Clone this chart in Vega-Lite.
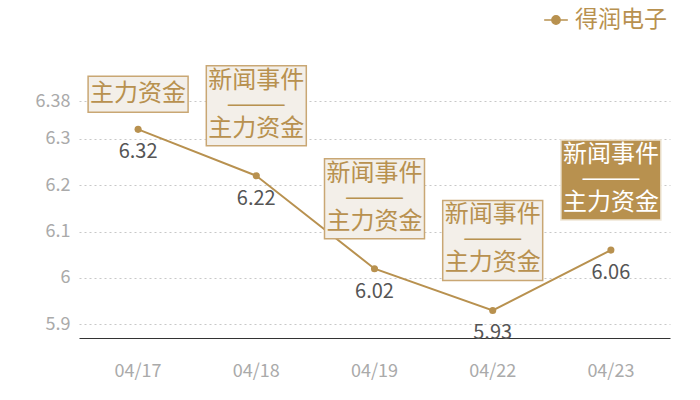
{
  "$schema": "https://vega.github.io/schema/vega-lite/v6.json",
  "width": 591,
  "height": 238,
  "autosize": "none",
  "padding": {"left": 79, "top": 100, "right": 30, "bottom": 62},
  "background": "white",
  "data": {
    "values": [
      {"date": "04/17", "value": 6.32, "stock": "得润电子", "note": "主力资金", "kind": "single"},
      {"date": "04/18", "value": 6.22, "stock": "得润电子", "note": "新闻事件\n———\n主力资金", "kind": "multi"},
      {"date": "04/19", "value": 6.02, "stock": "得润电子", "note": "新闻事件\n———\n主力资金", "kind": "multi"},
      {"date": "04/22", "value": 5.93, "stock": "得润电子", "note": "新闻事件\n———\n主力资金", "kind": "multi"},
      {"date": "04/23", "value": 6.06, "stock": "得润电子", "note": "新闻事件\n———\n主力资金", "kind": "latest"}
    ]
  },
  "encoding": {
    "x": {
      "field": "date", "type": "ordinal", "title": null,
      "scale": {"type": "band", "paddingInner": 0, "paddingOuter": 0},
      "axis": {
        "domain": true, "domainColor": "#333", "domainWidth": 1.2,
        "ticks": false, "grid": false, "labelAngle": 0,
        "labelColor": "#aaa", "labelFontSize": 18, "labelPadding": 24,
        "labelFont": "Noto Sans CJK SC"
      }
    },
    "y": {
      "field": "value", "type": "quantitative", "title": null,
      "scale": {"domain": [5.8707, 6.3832], "nice": false, "zero": false},
      "axis": {
        "values": [5.9, 6, 6.1, 6.2, 6.3, 6.38],
        "labelExpr": "'' + datum.value",
        "domain": false, "ticks": false,
        "grid": true, "gridColor": "#c8c8c8", "gridDash": [2, 3],
        "labelColor": "#aaa", "labelFontSize": 18, "labelPadding": 9,
        "labelFont": "Noto Sans CJK SC"
      }
    }
  },
  "layer": [
    {
      "mark": {"type": "line", "color": "#b8914f", "strokeWidth": 2},
      "encoding": {
        "color": {
          "field": "stock", "type": "nominal",
          "scale": {"range": ["#b8914f"]},
          "legend": {
            "title": null, "orient": "none", "legendX": 464, "legendY": -93,
            "symbolType": "M-1,0H-0.35M0.35,0H1M-0.35,0A0.35,0.35 0 1,1 0.35,0A0.35,0.35 0 1,1 -0.35,0Z",
            "symbolSize": 560, "symbolStrokeWidth": 1.5, "symbolFillColor": "#b8914f",
            "labelColor": "#b8914f", "labelFontSize": 23, "labelFont": "Noto Sans CJK SC",
            "labelOffset": 6
          }
        }
      }
    },
    {
      "mark": {"type": "point", "filled": true, "color": "#b8914f", "size": 50, "opacity": 1}
    },
    {
      "mark": {"type": "text", "dy": 23, "color": "#555", "fontSize": 20, "font": "Noto Sans CJK SC"},
      "encoding": {"text": {"field": "value", "type": "quantitative", "format": ".2f"}}
    },
    {
      "transform": [{"filter": "datum.kind == 'single'"}],
      "mark": {"type": "rect", "width": {"band": 0.846}, "fill": "#f3efe9", "stroke": "#c9a774", "strokeWidth": 1.5, "yOffset": -53, "y2Offset": -17},
      "encoding": {"y2": {"field": "value"}}
    },
    {
      "transform": [{"filter": "datum.kind == 'multi'"}],
      "mark": {"type": "rect", "width": {"band": 0.846}, "fill": "#f3efe9", "stroke": "#c9a774", "strokeWidth": 1.5, "yOffset": -110, "y2Offset": -30},
      "encoding": {"y2": {"field": "value"}}
    },
    {
      "transform": [{"filter": "datum.kind == 'latest'"}],
      "mark": {"type": "rect", "width": {"band": 0.846}, "fill": "#b8914f", "stroke": "#efe6d6", "strokeWidth": 1.5, "yOffset": -110, "y2Offset": -30},
      "encoding": {"y2": {"field": "value"}}
    },
    {
      "transform": [{"filter": "datum.kind == 'single'"}],
      "mark": {"type": "text", "dy": -35, "baseline": "middle", "color": "#b8914f", "fontSize": 24, "font": "Noto Sans CJK SC"},
      "encoding": {"text": {"field": "note"}}
    },
    {
      "transform": [{"filter": "datum.kind != 'single'"}],
      "mark": {"type": "text", "dy": -95, "baseline": "middle", "lineBreak": "\n", "lineHeight": 24, "fontSize": 24, "font": "Noto Sans CJK SC"},
      "encoding": {
        "text": {"field": "note"},
        "color": {"condition": {"test": "datum.kind == 'latest'", "value": "#ffffff"}, "value": "#b8914f"}
      }
    }
  ],
  "config": {
    "view": {"stroke": null}
  }
}
